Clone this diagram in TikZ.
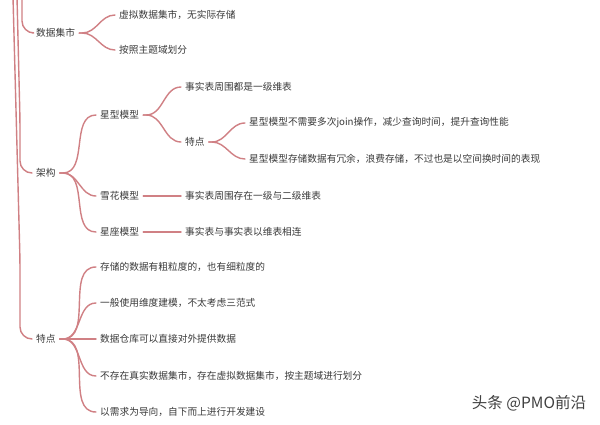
\documentclass[tikz,border=0pt]{standalone}
\usepackage{fontspec}
\setmainfont{Noto Sans CJK SC}
\usepackage{tikz}
\definecolor{linkred}{RGB}{208,128,132}
\definecolor{txtgray}{RGB}{58,58,58}
\tikzset{
  topic/.style={anchor=west, inner xsep=4pt, inner ysep=2pt, text=txtgray, font=\fontsize{9.7}{11}\selectfont},
  link/.style={draw=linkred, line width=1.4pt, line cap=round},
}
\newcommand{\mmnode}[3] {\node at (#1) (#2) [topic] {#3};}
\newcommand{\mmlink}[2] {\draw [link] (#1.east) -- ++(3,0) to [out=0,in=180] (#2.west);}
\newcommand{\mmtrunk}[3] {\draw [link, rounded corners=12pt] (#1) -- (#2) |- (#3.west);}

\begin{document}
\begin{tikzpicture}[x=1pt,y=-1pt]
\useasboundingbox [fill=white] (0,0) rectangle (600,424);
% roots come from above the picture
\coordinate (rootA) at (22,-3);
\coordinate (rootB) at (17,-3);
\coordinate (rootC) at (13,-3);
\coordinate (bendB) at (20,120);
\coordinate (bendC) at (20,260);

\mmnode {32,33} {shuju} {数据集市};
\mmnode {115,15} {shujuA} {虚拟数据集市，无实际存储};
\mmnode {115,50} {shujuB} {按照主题域划分};

\mmnode {32,173} {jiagou} {架构};
\mmnode {96,115} {xing} {星型模型};
\mmnode {181,87} {xingA} {事实表周围都是一级维表};
\mmnode {181,142} {xingte} {特点};
\mmnode {245,123} {xingteA} {星型模型不需要多次join操作，减少查询时间，提升查询性能};
\mmnode {245,159} {xingteB} {星型模型存储数据有冗余，浪费存储，不过也是以空间换时间的表现};
\mmnode {96,196} {xue} {雪花模型};
\mmnode {181,196} {xueA} {事实表周围存在一级与二级维表};
\mmnode {96,232} {zuo} {星座模型};
\mmnode {181,232} {zuoA} {事实表与事实表以维表相连};

\mmnode {32,339} {tedian} {特点};
\mmnode {96,267} {tedianA} {存储的数据有粗粒度的，也有细粒度的};
\mmnode {96,303} {tedianB} {一般使用维度建模，不太考虑三范式};
\mmnode {96,339} {tedianC} {数据仓库可以直接对外提供数据};
\mmnode {96,376} {tedianD} {不存在真实数据集市，存在虚拟数据集市，按主题域进行划分};
\mmnode {96,412} {tedianE} {以需求为导向，自下而上进行开发建设};

\mmtrunk{rootA}{rootA}{shuju};
\mmtrunk{rootB}{bendB}{jiagou};
\mmtrunk{rootC}{bendC}{tedian};

\mmlink{shuju}{shujuA};
\mmlink{shuju}{shujuB};
\mmlink{jiagou}{xing};
\mmlink{jiagou}{xue};
\mmlink{jiagou}{zuo};
\mmlink{xing}{xingA};
\mmlink{xing}{xingte};
\mmlink{xingte}{xingteA};
\mmlink{xingte}{xingteB};
\mmlink{xue}{xueA};
\mmlink{zuo}{zuoA};
\mmlink{tedian}{tedianA};
\mmlink{tedian}{tedianB};
\mmlink{tedian}{tedianC};
\mmlink{tedian}{tedianD};
\mmlink{tedian}{tedianE};

% watermark
\node at (529,403) (mark) [text=black!75, font=\fontsize{15.5}{17}\selectfont] {头条 @PMO前沿};
\end{tikzpicture}
\end{document}
